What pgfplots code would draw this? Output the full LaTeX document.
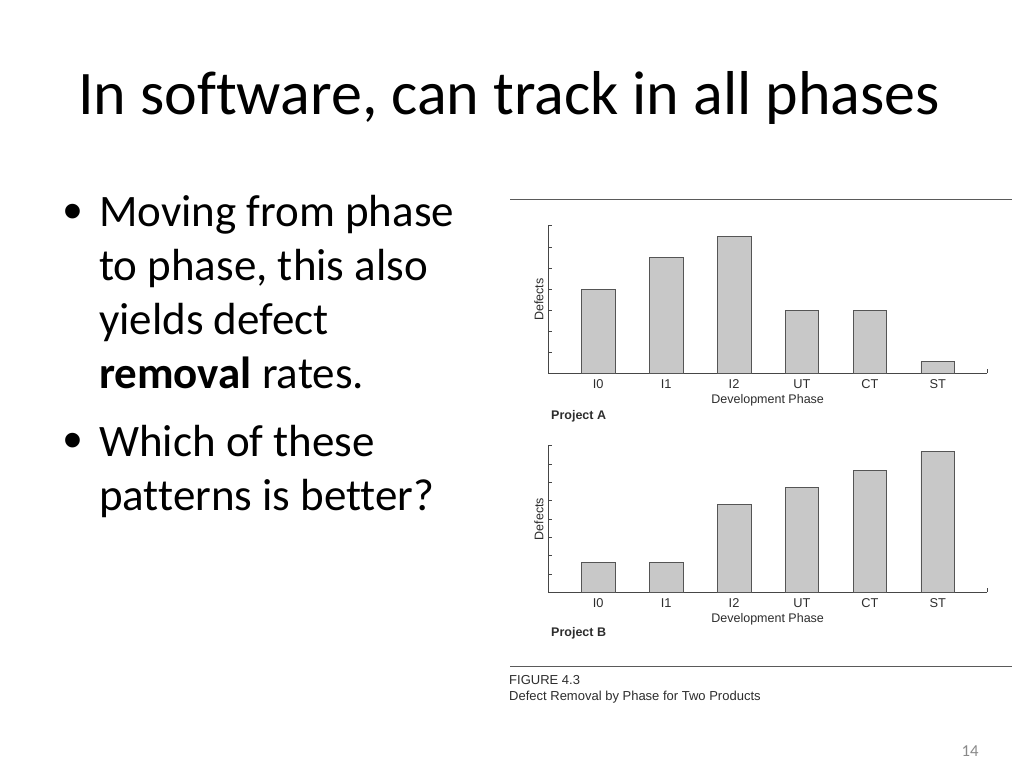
\documentclass[border=0pt]{standalone}
\usepackage{fontspec}
\setmainfont{Carlito}[Ligatures=NoCommon]
\newfontfamily\arial{Liberation Sans}
\usepackage{pgfplots}
\pgfplotsset{compat=1.18}
\definecolor{barfill}{RGB}{200,200,200}
\definecolor{baredge}{RGB}{85,85,85}
\definecolor{axc}{RGB}{70,70,70}
\definecolor{txt}{RGB}{45,45,45}
\definecolor{rule}{RGB}{90,90,90}
\pgfplotsset{
  phasechart/.style={
    anchor=south west,
    scale only axis,
    width=439.3pt,
    xmin=-0.74, xmax=5.73, ymin=0,
    axis x line=bottom, axis y line=left,
    axis line style={-, draw=axc, line width=0.8pt},
    enlargelimits=false,
    clip=false,
    xtick=\empty,
    extra x ticks={0,1,2,3,4,5},
    extra x tick labels={I0,I1,I2,UT,CT,ST},
    extra x tick style={major tick length=0pt},
    tick align=inside,
    major tick length=4pt,
    y tick style={draw=axc, line width=0.6pt},
    yticklabels={},
    xticklabel style={anchor=center, yshift=-11pt, text=txt, font=\arial\fontsize{12.8}{14}\selectfont},
    xlabel={Development Phase},
    xlabel style={at={(axis description cs:0.5,0)}, anchor=center, yshift=-27pt, text=txt, font=\arial\fontsize{12.5}{14}\selectfont},
    ylabel={Defects},
    ylabel style={at={(axis description cs:-0.0205,0.5)}, anchor=center, text=txt, font=\arial\fontsize{12.5}{14}\selectfont},
  },
  phasebar/.style={ybar, bar width=33.7pt, bar shift=0pt, fill=barfill, draw=baredge, line width=0.8pt},
}
\begin{document}
\begin{tikzpicture}[x=1pt,y=1pt]
\path[fill=white] (0,0) rectangle (1024,768);
% title
\node[anchor=base west, inner sep=0] at (78,653) {\fontsize{62}{74}\selectfont In software, can track in all phases};
% bullets
\begin{scope}[every node/.style={anchor=base west, inner sep=0, font=\fontsize{45}{54}\selectfont}]
\node[anchor=center, font=\arial\fontsize{54}{54}\selectfont] at (72.5,551.5) {•};
\node at (99,541) {Moving from phase};
\node at (99,487) {to phase, this also};
\node at (99,433) {yields defect};
\node at (99,379) {\textbf{removal} rates.};
\node[anchor=center, font=\arial\fontsize{54}{54}\selectfont] at (72.5,322.5) {•};
\node at (99,311) {Which of these};
\node at (99,257) {patterns is better?};
\end{scope}
% rules
\draw[rule, line width=0.9pt] (510,569) -- (1012,569);
\draw[rule, line width=0.9pt] (510,101.3) -- (1012,101.3);
% chart A
\begin{axis}[phasechart, at={(548pt,394.7pt)}, height=147.5pt, ymax=7, ytick={1,2,3,4,5,6,7}]
\addplot[phasebar] coordinates {(0,4) (1,5.5) (2,6.5) (3,3) (4,3) (5,0.55)};
\draw[axc, line width=0.6pt] (rel axis cs:1,0) -- ++(0pt,4pt);
\end{axis}
\node[anchor=west, inner sep=0, text=txt, font=\arial\bfseries\fontsize{12.5}{14}\selectfont] at (551,352) {Project A};
% chart B
\begin{axis}[phasechart, at={(548pt,175.7pt)}, height=146.6pt, ymax=8, ytick={1,2,3,4,5,6,7,8}]
\addplot[phasebar] coordinates {(0,1.64) (1,1.62) (2,4.78) (3,5.73) (4,6.65) (5,7.67)};
\draw[axc, line width=0.6pt] (rel axis cs:1,0) -- ++(0pt,4pt);
\end{axis}
\node[anchor=west, inner sep=0, text=txt, font=\arial\bfseries\fontsize{12.5}{14}\selectfont] at (551,135) {Project B};
% caption
\node[anchor=west, inner sep=0, text=txt, font=\arial\fontsize{13}{15}\selectfont] at (509,88) {FIGURE 4.3};
\node[anchor=west, inner sep=0, text=txt, font=\arial\fontsize{13}{15}\selectfont] at (509,71.3) {Defect Removal by Phase for Two Products};
% page number
\node[anchor=center, inner sep=0, text={rgb,255:red,137;green,137;blue,137}, font=\fontsize{16.7}{20}\selectfont] at (970,17.3) {14};
\end{tikzpicture}
\end{document}
